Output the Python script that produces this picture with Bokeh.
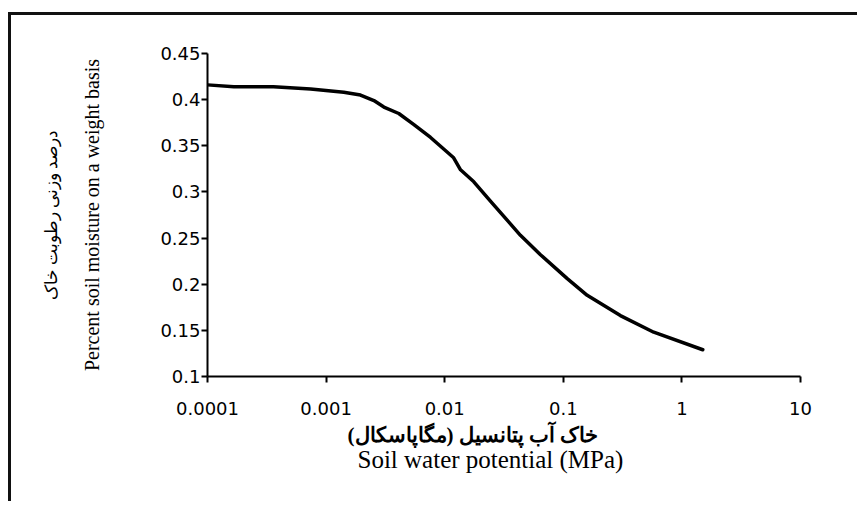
from bokeh.plotting import figure
from bokeh.models import LinearAxis, FixedTicker, Range1d, Title
from bokeh.embed import file_html
from bokeh.resources import INLINE

# ---- data ----
potential_mpa = [0.0001, 0.000167, 0.00036, 0.00074, 0.00141, 0.00195, 0.00253,
                 0.00307, 0.0041, 0.0055, 0.0076, 0.0119, 0.0136, 0.0176, 0.0243,
                 0.0435, 0.0642, 0.108, 0.159, 0.303, 0.579, 1.5]
moisture = [0.416, 0.414, 0.414, 0.4115, 0.408, 0.405, 0.399,
            0.392, 0.385, 0.373, 0.359, 0.337, 0.324, 0.311, 0.290,
            0.253, 0.232, 0.206, 0.188, 0.166, 0.148, 0.129]

x_ticks = [0.0001, 0.001, 0.01, 0.1, 1, 10]
x_tick_labels = ["0.0001", "0.001", "0.01", "0.1", "1", "10"]
y_ticks = [0.1, 0.15, 0.2, 0.25, 0.3, 0.35, 0.4, 0.45]
y_tick_labels = ["0.1", "0.15", "0.2", "0.25", "0.3", "0.35", "0.4", "0.45"]

# word order as it appears (left to right) in the original figure
x_label_fa = "(مگاپاسکال) خاک آب پتانسیل"
x_label_en = "Soil water potential (MPa)"
y_label_fa = "درصد وزنی رطوبت خاک"
y_label_en = "Percent soil moisture on a weight basis"

p = figure(width=849, height=489, x_axis_type="log",
           x_range=Range1d(1e-4, 10), y_range=Range1d(0.1, 0.45),
           output_backend="svg", toolbar_location=None,
           min_border_left=196, min_border_right=60,
           min_border_top=38, min_border_bottom=128)
# outer frame of the original figure (only its top and left edges are visible)
p.styles = {"border-top": "3px solid #111", "border-left": "3px solid #111",
            "margin-top": "12px", "margin-left": "8px"}
p.outline_line_color = None
p.xgrid.visible = False
p.ygrid.visible = False
p.background_fill_color = "white"
p.border_fill_color = "white"

p.line(potential_mpa, moisture, line_color="black", line_width=3.5,
       line_join="round", line_cap="round")

tick_font = "DejaVu Sans"

for ax in (p.xaxis[0], p.yaxis[0]):
    ax.axis_line_color = "black"
    ax.axis_line_width = 2
    ax.major_tick_line_color = "black"
    ax.major_tick_line_width = 2
    ax.major_tick_out = 6
    ax.major_tick_in = 0
    ax.minor_tick_line_color = None
    ax.major_label_text_font = tick_font
    ax.major_label_text_font_size = "18px"
    ax.major_label_text_color = "black"

xa = p.xaxis[0]
xa.ticker = FixedTicker(ticks=x_ticks)
xa.major_label_overrides = dict(zip(x_ticks, x_tick_labels))
xa.major_label_standoff = 19

ya = p.yaxis[0]
ya.ticker = FixedTicker(ticks=y_ticks)
ya.major_label_overrides = dict(zip(y_ticks, y_tick_labels))
ya.major_label_standoff = 1
ya.axis_label = y_label_en
ya.axis_label_text_font = "Liberation Serif"
ya.axis_label_text_font_style = "normal"
ya.axis_label_text_font_size = "20px"
ya.axis_label_text_color = "black"
ya.axis_label_standoff = 54

# x-axis titles (left-aligned as in the original, not centred on the axis)
p.add_layout(Title(text=x_label_fa, align="left", offset=140, standoff=6,
                   vertical_align="bottom", text_font="Liberation Serif",
                   text_font_style="bold", text_font_size="21px",
                   text_color="black"), "below")
p.add_layout(Title(text=x_label_en, align="left", offset=150, standoff=-10,
                   vertical_align="middle", text_font="Liberation Serif",
                   text_font_style="normal", text_font_size="25px",
                   text_color="black"), "below")

y2 = LinearAxis(ticker=FixedTicker(ticks=[]), axis_line_color=None,
                major_tick_line_color=None, minor_tick_line_color=None,
                major_label_text_font_size="0px",
                axis_label=y_label_fa, axis_label_text_font="Liberation Serif",
                axis_label_text_font_style="normal", axis_label_text_font_size="17px",
                axis_label_text_color="black", axis_label_standoff=18)
p.add_layout(y2, "left")

open("out.html", "w").write(file_html(p, INLINE))
